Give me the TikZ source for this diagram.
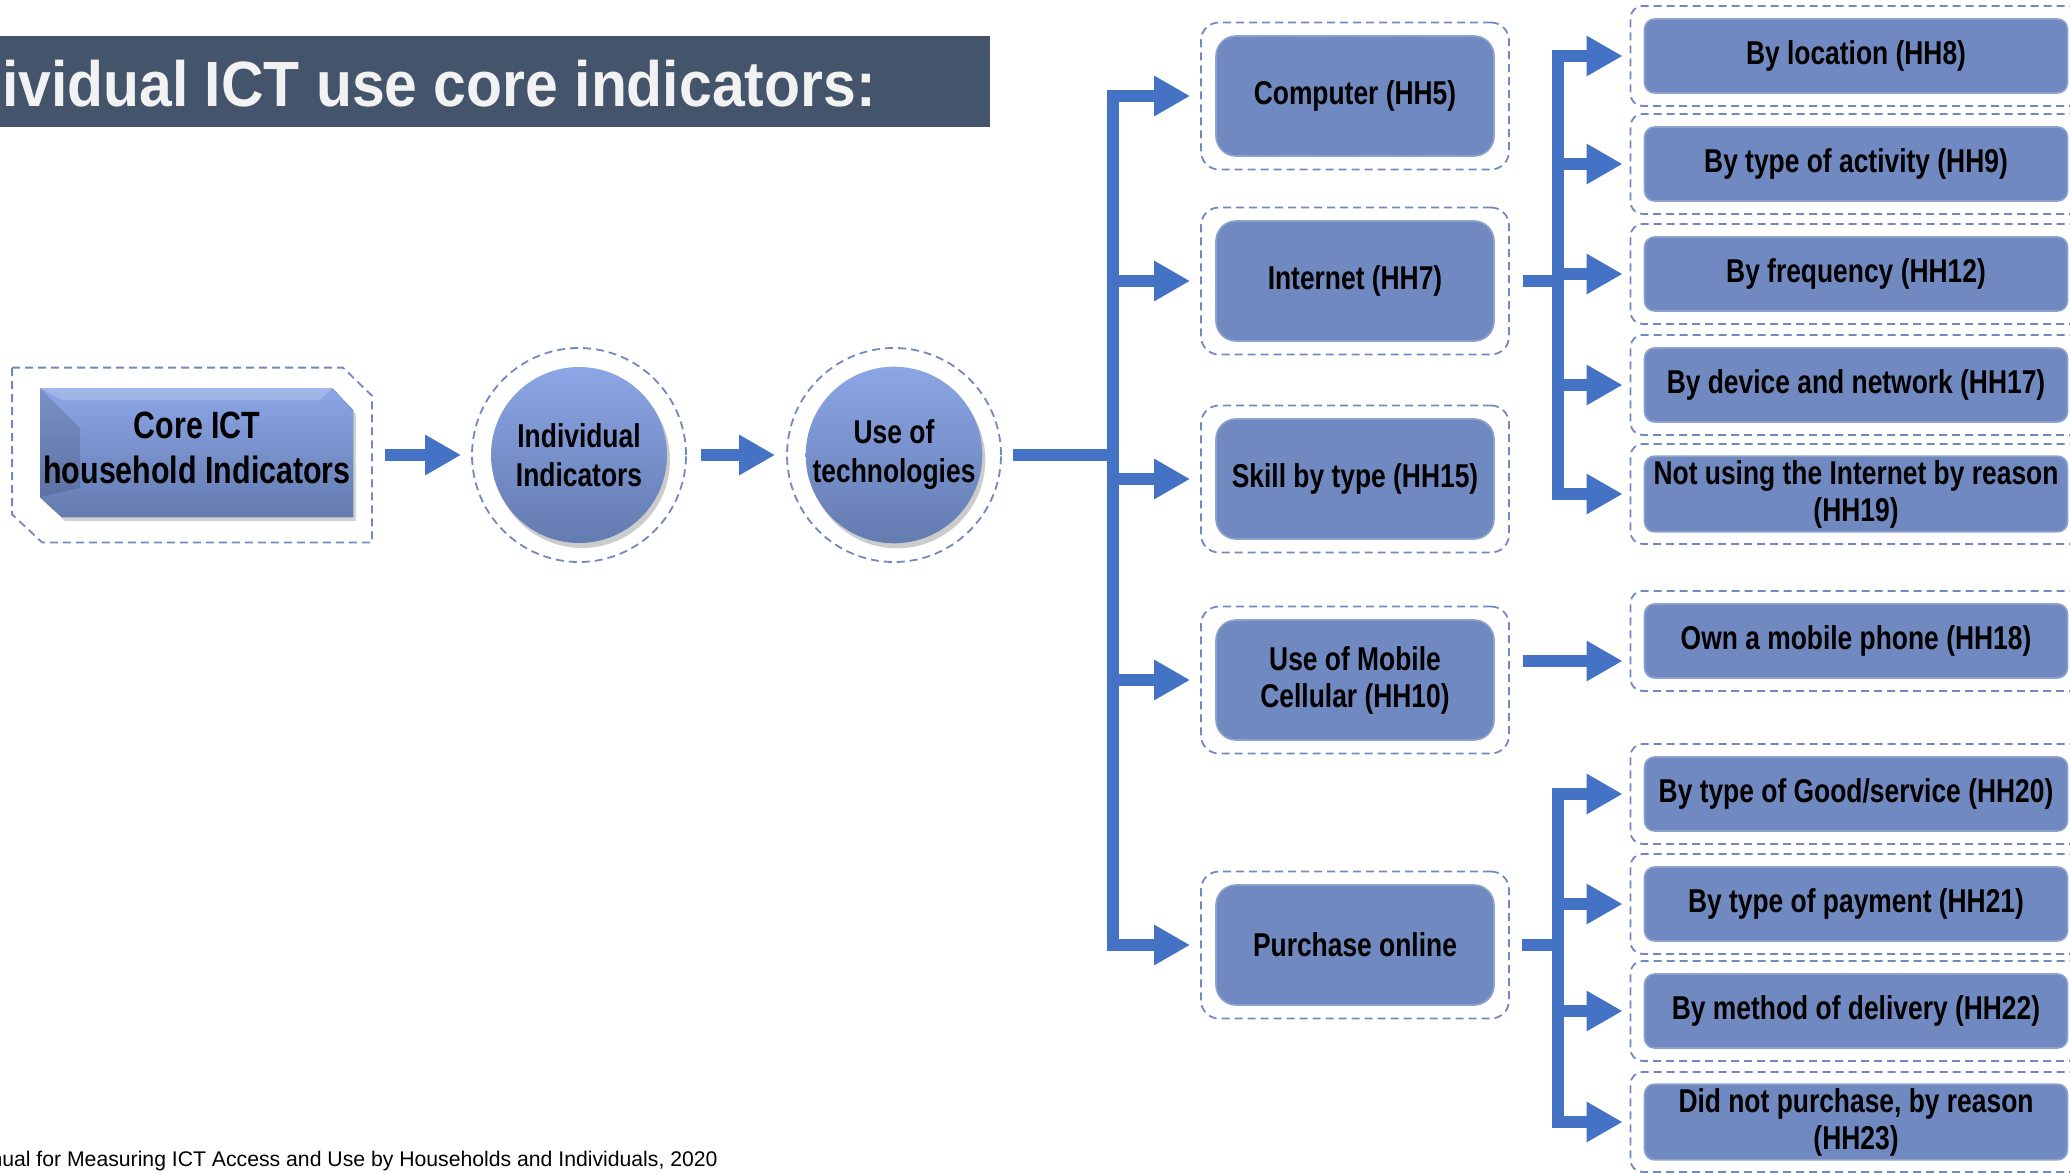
\documentclass[tikz,border=0pt]{standalone}
\usepackage{fontspec}
\setmainfont{Liberation Sans}
\newfontfamily\narrowsans[FakeStretch=0.8]{Liberation Sans}
\newfontfamily\bannerfont[FakeStretch=0.92]{Liberation Sans}
\usetikzlibrary{arrows.meta, shadows}
\definecolor{arrowblue}{RGB}{68,114,196}
\definecolor{boxblue}{RGB}{112,137,192}
\definecolor{topblue}{RGB}{140,166,230}
\definecolor{lowblue}{RGB}{100,123,176}
\definecolor{slate}{RGB}{68,84,106}
\definecolor{banner}{RGB}{242,242,242}
\tikzset{
  dashframe/.style={draw=boxblue, line width=0.9pt, dash pattern=on 4pt off 2.5pt},
  midframe/.style={dashframe, rectangle, rounded corners=9pt, minimum width=154pt, minimum height=73.5pt},
  midbox/.style={rectangle, rounded corners=10pt, fill=boxblue, draw=boxblue!80!white, line width=0.8pt, minimum width=139pt, minimum height=60pt, inner sep=2pt, align=center, font=\narrowsans\bfseries\fontsize{16.5}{18.5}\selectfont},
  leafframe/.style={dashframe, rectangle, rounded corners=6pt, minimum width=229.5pt, minimum height=50pt},
  leafbox/.style={midbox, rounded corners=5pt, minimum width=211.5pt, minimum height=37pt},
  ringframe/.style={dashframe, circle, minimum size=107pt},
  ball/.style={circle, minimum size=88pt, inner sep=0pt, top color=topblue, bottom color=lowblue, drop shadow={shadow xshift=1.5pt, shadow yshift=-2.5pt, opacity=0.4}, align=center, font=\narrowsans\bfseries\fontsize{16.5}{19.5}\selectfont},
  busline/.style={draw=arrowblue, line width=6pt, line join=miter},
  blockarrow/.style={busline, -{Triangle[length=18pt, width=19pt]}}
}
\begin{document}
\begin{tikzpicture}[x=0.5pt, y=-0.5pt]
\useasboundingbox (0,0) rectangle (2070,1172);
\clip (0,0) rectangle (2070,1172);
\node[fill=slate, minimum width=500pt, minimum height=45.5pt, inner sep=0pt, anchor=north east] (bar) at (990,36) {};
\node[anchor=base east, inner sep=0pt, text=banner, font=\bannerfont\bfseries\fontsize{32}{36}\selectfont] (title) at (876,106) {Individual ICT use core indicators:};

\node[minimum width=179.5pt, minimum height=87pt, inner sep=0pt] (core) at (192,455) {};
\draw[dashframe] (core.north west) -- ([xshift=-14.5pt]core.north east) -- ([yshift=-14pt]core.north east) -- (core.south east) -- ([xshift=15pt]core.south west) -- ([yshift=14pt]core.south west) -- cycle;
\fill[top color=topblue, bottom color=lowblue, drop shadow={shadow xshift=1.5pt, shadow yshift=-2pt, opacity=0.35}] (40,388) -- (332,388) -- (353,410) -- (353,517) -- (62,517) -- (40,497) -- cycle;
\fill[black, opacity=0.12] (40,388) -- (80,428) -- (80,488) -- (40,497) -- cycle;
\fill[white, opacity=0.2] (40,388) -- (332,388) -- (320,400) -- (62,400) -- cycle;
\node[align=center, font=\narrowsans\bfseries\fontsize{19}{22.5}\selectfont] (coretext) at (197,448) {Core ICT\\household Indicators};

\node[ringframe] (indiv) at (579,455) {};
\node[ball] (indivball) at (indiv) {Individual\\Indicators};
\node[ringframe] (tech) at (894,455) {};
\node[ball] (techball) at (tech) {Use of\\technologies};

\draw[blockarrow, shorten <=6.5pt, shorten >=5pt] (core) -- (indiv);
\draw[blockarrow, shorten <=7pt, shorten >=5.5pt] (indiv) -- (tech);
\coordinate (busa) at (1113,455);
\draw[busline, shorten <=5.5pt] (tech) -- (busa);

\foreach \nm/\y/\txt in {comp/96/{Computer (HH5)}, inet/281/{Internet (HH7)}, skill/479/{Skill by type (HH15)}, mob/680/{Use of Mobile\\Cellular (HH10)}, buy/945/{Purchase online}}{
  \node[midframe] (\nm) at (1355,\y) {};
  \node[midbox] (\nm box) at (\nm) {\txt};
  \draw[blockarrow, shorten >=5pt] (busa) |- (\nm);
}

\foreach \nm/\y/\txt in {hh8/56/{By location (HH8)}, hh9/164/{By type of activity (HH9)}, hh12/274/{By frequency (HH12)}, hh17/385/{By device and network (HH17)}, hh19/494/{Not using the Internet by reason\\(HH19)}, hh18/641/{Own a mobile phone (HH18)}, hh20/794/{By type of Good/service (HH20)}, hh21/904/{By type of payment (HH21)}, hh22/1011/{By method of delivery (HH22)}, hh23/1122/{Did not purchase, by reason\\(HH23)}}{
  \node[leafframe] (\nm) at (1860,\y) {};
  \node[leafbox] (\nm box) at (1856,\y) {\txt};
}

\coordinate (busb) at (1558,281);
\draw[busline, shorten <=6.5pt] (inet) -- (busb);
\foreach \nm in {hh8,hh9,hh12,hh17,hh19}
  \draw[blockarrow, shorten >=3.5pt] (busb) |- (\nm);
\coordinate (mobout) at ([yshift=9.5pt]mob.east);
\draw[blockarrow, shorten <=6.5pt, shorten >=3.5pt] (mobout) -- (mobout -| hh18.west);
\coordinate (busc) at (1558,945);
\draw[busline, shorten <=6pt] (buy) -- (busc);
\foreach \nm in {hh20,hh21,hh22,hh23}
  \draw[blockarrow, shorten >=3.5pt] (busc) |- (\nm);

\node[anchor=base east, inner sep=0pt, font=\fontsize{10.6}{13}\selectfont] (source) at (718,1166) {Manual for Measuring ICT Access and Use by Households and Individuals, 2020};
\end{tikzpicture}
\end{document}
